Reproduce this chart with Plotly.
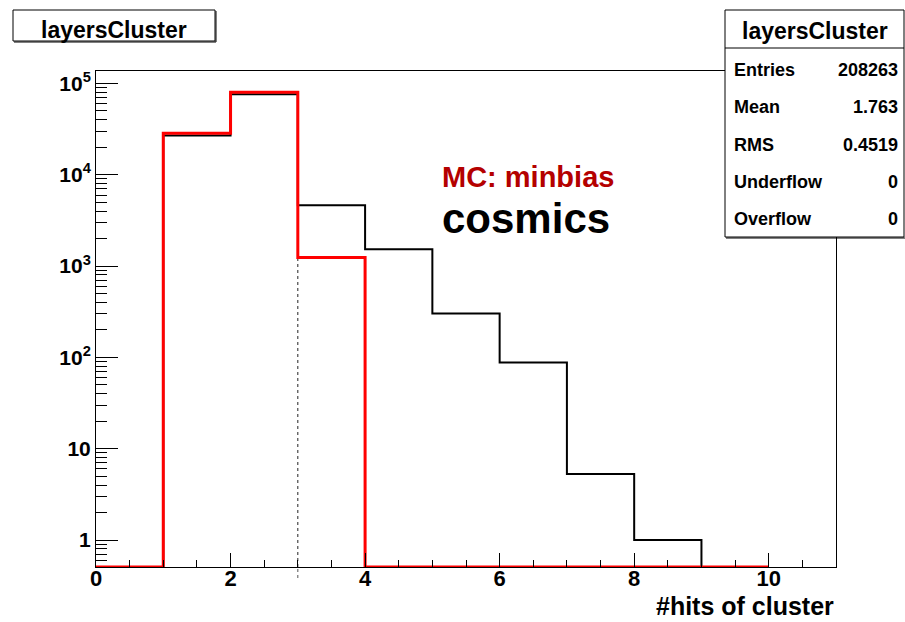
import math
import plotly.graph_objects as go

# ---------------- data ----------------
bin_edges = [0, 1, 2, 3, 4, 5, 6, 7, 8, 9, 10]
cosmics_counts = [0, 27000, 76200, 4640, 1530, 303, 88, 5.3, 1.0, 0]
minbias_counts = [0, 28500, 80300, 1240, 0, 0, 0, 0, 0, 0]

x_tick_vals = [0, 2, 4, 6, 8, 10]
y_tick_vals = [1, 10, 100, 1000, 10000, 100000]
y_tick_text = ["<b>1</b>", "<b>10</b>", "<b>10<sup>2</sup></b>", "<b>10<sup>3</sup></b>",
               "<b>10<sup>4</sup></b>", "<b>10<sup>5</sup></b>"]

stats_labels = ["Entries", "Mean", "RMS", "Underflow", "Overflow"]
stats_values = ["208263", "1.763", "0.4519", "0", "0"]

hist_title = "layersCluster"
x_title = "#hits of cluster"
legend_texts = ["MC: minbias", "cosmics"]

# ---------------- layout helpers ----------------
W, H = 905, 622
L, R, T, B = 96, 836, 71, 567
Y_LO, Y_HI = -0.2957, 5.137
FLOOR = 10 ** Y_LO
FONT = "Liberation Sans, Arial, Helvetica, sans-serif"


def px(x):
    return (x - L) / (R - L)


def py(y):
    return (B - y) / (B - T)


def step_y(counts):
    ys = [c if c > 0 else FLOOR for c in counts]
    return ys + [ys[-1]]


fig = go.Figure()

fig.add_trace(go.Scatter(
    x=bin_edges, y=step_y(cosmics_counts), mode="lines", line_shape="hv",
    line=dict(color="black", width=2), showlegend=False, hoverinfo="skip"))

# dotted edge at x=3 below the cosmics bin top
fig.add_trace(go.Scatter(
    x=[bin_edges[3], bin_edges[3]], y=[FLOOR, cosmics_counts[3]], mode="lines",
    line=dict(color="#222222", width=1, dash="dot"), showlegend=False, hoverinfo="skip"))

fig.add_trace(go.Scatter(
    x=bin_edges, y=step_y(minbias_counts), mode="lines", line_shape="hv",
    line=dict(color="#ff0000", width=3), showlegend=False, hoverinfo="skip"))

y_minor = []
for k in range(-1, 6):
    for m in range(2, 10):
        if Y_LO < (k + math.log10(m)) < Y_HI:
            y_minor.append(m * 10 ** k)

fig.update_layout(
    width=W, height=H,
    margin=dict(l=L, r=W - R, t=T, b=H - B, pad=0),
    paper_bgcolor="white", plot_bgcolor="white",
    font=dict(family=FONT, color="black"),
    xaxis=dict(
        range=[0, 11], showgrid=False, zeroline=False,
        showline=True, linecolor="black", linewidth=1, mirror=True,
        ticks="inside", ticklen=14, tickwidth=1, tickcolor="black",
        tickvals=x_tick_vals, ticktext=[f"<b>{v}</b>" for v in x_tick_vals],
        tickfont=dict(size=22, family=FONT, color="black"),
        ticklabelstandoff=-8,
        minor=dict(dtick=0.5, tick0=0, ticks="inside", ticklen=7, tickcolor="black", tickwidth=1),
    ),
    yaxis=dict(
        type="log", range=[Y_LO, Y_HI], showgrid=False, zeroline=False,
        showline=True, linecolor="black", linewidth=1, mirror=True,
        ticks="inside", ticklen=22, tickwidth=1, tickcolor="black",
        tickvals=y_tick_vals, ticktext=y_tick_text,
        tickfont=dict(size=21, family=FONT, color="black"),
        minor=dict(tickmode="array", tickvals=y_minor, ticks="inside", ticklen=11,
                   tickcolor="black", tickwidth=1),
    ),
)

shapes = []
# dotted line continuing below axis
shapes.append(dict(type="line", xref="x", yref="paper", x0=3, x1=3, y0=py(578), y1=0,
                   line=dict(color="#555555", width=1, dash="dot")))
# title box
shapes.append(dict(type="rect", xref="paper", yref="paper", x0=px(13), x1=px(215),
                   y0=py(41), y1=py(10), line=dict(color="black", width=1),
                   fillcolor="white", layer="above"))
shapes.append(dict(type="line", xref="paper", yref="paper", x0=px(14), x1=px(216),
                   y0=py(42), y1=py(42), line=dict(color="black", width=1), layer="above"))
shapes.append(dict(type="line", xref="paper", yref="paper", x0=px(216), x1=px(216),
                   y0=py(42), y1=py(11), line=dict(color="black", width=1), layer="above"))
# stats box
shapes.append(dict(type="rect", xref="paper", yref="paper", x0=px(725), x1=px(904),
                   y0=py(237), y1=py(10), line=dict(color="black", width=1),
                   fillcolor="white", layer="above"))
shapes.append(dict(type="line", xref="paper", yref="paper", x0=px(726), x1=px(905),
                   y0=py(238), y1=py(238), line=dict(color="black", width=1), layer="above"))
shapes.append(dict(type="line", xref="paper", yref="paper", x0=px(725), x1=px(904),
                   y0=py(48), y1=py(48), line=dict(color="black", width=1), layer="above"))
fig.update_layout(shapes=shapes)

ann = []
ann.append(dict(xref="paper", yref="paper", x=px(114), y=py(30), text=f"<b>{hist_title}</b>",
                showarrow=False, xanchor="center", yanchor="middle",
                font=dict(size=23, family=FONT, color="black")))
ann.append(dict(xref="paper", yref="paper", x=px(815), y=py(31), text=f"<b>{hist_title}</b>",
                showarrow=False, xanchor="center", yanchor="middle",
                font=dict(size=23, family=FONT, color="black")))
row_y = [70, 107, 145, 182, 219]
for lab, val, yy in zip(stats_labels, stats_values, row_y):
    ann.append(dict(xref="paper", yref="paper", x=px(732), y=py(yy), text=f"<b>{lab}</b>",
                    showarrow=False, xanchor="left", yanchor="middle",
                    font=dict(size=18, family=FONT, color="black")))
    ann.append(dict(xref="paper", yref="paper", x=px(900), y=py(yy), text=f"<b>{val}</b>",
                    showarrow=False, xanchor="right", yanchor="middle",
                    font=dict(size=18, family=FONT, color="black")))
ann.append(dict(xref="paper", yref="paper", x=px(440), y=py(177), text=f"<b>{legend_texts[0]}</b>",
                showarrow=False, xanchor="left", yanchor="middle",
                font=dict(size=29, family=FONT, color="#b40000")))
ann.append(dict(xref="paper", yref="paper", x=px(440), y=py(219), text=f"<b>{legend_texts[1]}</b>",
                showarrow=False, xanchor="left", yanchor="middle",
                font=dict(size=42, family=FONT, color="black")))
ann.append(dict(xref="paper", yref="paper", x=px(836), y=py(622), text=f"<b>{x_title}</b>",
                showarrow=False, xanchor="right", yanchor="bottom",
                font=dict(size=25, family=FONT, color="black")))
fig.update_layout(annotations=ann)

fig.write_html("out.html")
